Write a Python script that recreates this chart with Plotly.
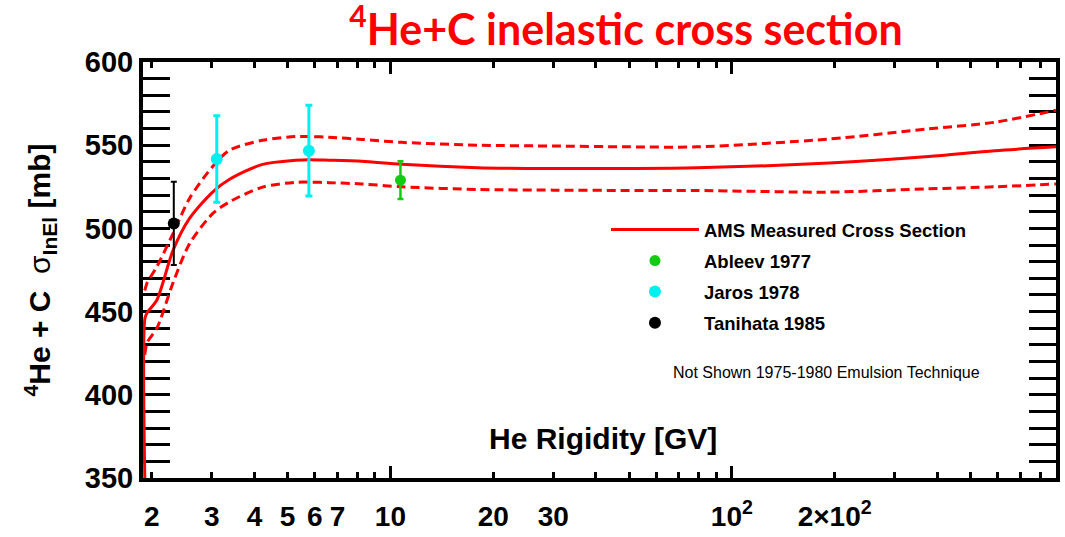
import plotly.graph_objects as go
import numpy as np

# Rigidity grid (GV) for the AMS cross-section band
rigidity = [1.908, 1.91, 1.94, 2.07, 2.31, 2.58, 3.02, 3.38, 4.22, 5.28, 5.77,
            6.6, 8.25, 10.8, 18, 30, 50, 79, 193, 377, 589, 890]
# AMS measured cross section (mb) and its upper / lower bounds
ams_sigma = [350, 446, 449.5, 457, 487, 506, 522, 529.5, 538.5, 541, 541.3,
             541, 540.3, 538.5, 536.5, 536, 536, 536.4, 539.3, 543.2, 546.7, 549]
ams_upper = [462.7, 463, 467.5, 477, 497, 518, 537.4, 547, 553, 555.2, 555.2,
             554.8, 553.5, 551.7, 550, 549.5, 549, 549, 553.7, 559.8, 563.8, 571]
ams_lower = [424, 425, 431.5, 440, 467.5, 490.8, 509, 516, 524.8, 527.7, 527.8,
             527.5, 526.7, 525, 523.4, 523, 522.8, 522.8, 521.8, 523.8, 525, 526.7]

# Earlier measurements
ableev_r, ableev_s, ableev_e = [10.7], [529], [11.4]
jaros_r, jaros_s, jaros_e = [3.1, 5.77], [541.7, 546.7], [26, 27.3]
tanihata_r, tanihata_s, tanihata_e = [2.32], [503], [25]

# Axis ticks
x_tickvals = [2, 3, 4, 5, 6, 7, 8, 9, 10, 20, 30, 40, 50, 60, 70, 80, 90,
              100, 200, 300, 400, 500, 600, 700, 800]
x_ticktext = ["2", "3", "4", "5", "6", "7", "", "", "10", "20", "30", "", "", "", "", "", "",
              "10<sup>2</sup>", "2×10<sup>2</sup>", "", "", "", "", "", ""]
x_major = [10, 100]
y_tickvals = [350, 400, 450, 500, 550, 600]

X_RANGE = [np.log10(1.885), np.log10(890)]
Y_RANGE = [350, 600]

RED = "#ff0000"
FONT = "Liberation Sans"

fig = go.Figure()

band_line = dict(color=RED, width=3, dash="9px,5px", shape="spline", smoothing=0.8)
fig.add_trace(go.Scatter(x=rigidity, y=ams_upper, mode="lines", showlegend=False,
                         line=band_line, hoverinfo="skip"))
fig.add_trace(go.Scatter(x=rigidity, y=ams_lower, mode="lines", showlegend=False,
                         line=band_line, hoverinfo="skip"))
fig.add_trace(go.Scatter(x=rigidity, y=ams_sigma, mode="lines", name="AMS Measured Cross Section",
                         line=dict(color=RED, width=3, shape="spline", smoothing=0.8),
                         legendgroup="a"))

def data_points(r, s, e, color, name, group, msize=12, cap=3.5, thick=2.5):
    return go.Scatter(x=r, y=s, mode="markers", name=name, legendgroup=group,
                      marker=dict(color=color, size=msize, line=dict(width=0)),
                      error_y=dict(type="data", array=e, color=color,
                                   thickness=thick, width=cap))

fig.add_trace(data_points(ableev_r, ableev_s, ableev_e, "#11cc11", "Ableev 1977", "b", 11, 3, 2.5))
fig.add_trace(data_points(jaros_r, jaros_s, jaros_e, "#00f0f0", "Jaros 1978", "c", 12, 3.5, 3))
fig.add_trace(data_points(tanihata_r, tanihata_s, tanihata_e, "#000000", "Tanihata 1985", "d", 12, 3, 2))

# empty trace carrying the long decade ticks on an overlaid axis
fig.add_trace(go.Scatter(x=[], y=[], xaxis="x2", showlegend=False))

fig.update_layout(
    width=1065, height=537,
    margin=dict(l=143, r=5, t=62, b=45),
    paper_bgcolor="white", plot_bgcolor="white",
    font=dict(family=FONT, color="black"),
    title=dict(text="<sup>4</sup>He+C inelastic cross section",
               font=dict(family="Lato", size=43, color=RED, weight="bold"),
               xref="container", x=626 / 1065, xanchor="center",
               yref="container", y=1 - 30 / 537, yanchor="middle"),
    xaxis=dict(type="log", range=X_RANGE, tickmode="array", tickvals=x_tickvals,
               ticktext=x_ticktext, ticks="inside", ticklen=6, tickwidth=2.5,
               tickcolor="black", showline=True, linewidth=4, linecolor="black",
               mirror="allticks", showgrid=False, zeroline=False, layer="below traces",
               tickfont=dict(family=FONT, size=28, weight="bold"),
               ticklabelstandoff=10),
    xaxis2=dict(type="log", range=X_RANGE, overlaying="x", side="bottom",
                tickmode="array", tickvals=x_major, showticklabels=False,
                ticks="inside", ticklen=12, tickwidth=2.5, tickcolor="black",
                mirror="allticks", showline=False, showgrid=False, zeroline=False),
    yaxis=dict(range=Y_RANGE, tickmode="array", tickvals=y_tickvals,
               ticks="inside", ticklen=27, tickwidth=3, tickcolor="black",
               minor=dict(dtick=10, ticks="inside", ticklen=13, tickwidth=3,
                          tickcolor="black", showgrid=False),
               showline=True, linewidth=4, linecolor="black", mirror="allticks",
               showgrid=False, zeroline=False, layer="below traces",
               tickfont=dict(family=FONT, size=29, weight="bold"),
               title=dict(text="<sup>4</sup>He + C  <span style='font-weight:normal'>σ</span><sub>InEl</sub> [mb]",
                          font=dict(family=FONT, size=30, weight="bold"), standoff=26)),
    legend=dict(x=(608 - 143) / 917, y=(492 - 216) / 430, xanchor="left", yanchor="top",
                bgcolor="rgba(0,0,0,0)", borderwidth=0, itemwidth=88,
                font=dict(family=FONT, size=18.5, weight="bold"), tracegroupgap=4),
    annotations=[
        dict(text="He Rigidity [GV]", xref="paper", yref="paper",
             x=(722 - 143) / 917, y=(492 - 451) / 430, xanchor="right", yanchor="middle",
             showarrow=False, font=dict(family=FONT, size=30, weight="bold")),
        dict(text="Not Shown 1975-1980 Emulsion Technique", xref="paper", yref="paper",
             x=(673 - 143) / 917, y=(492 - 383) / 430, xanchor="left", yanchor="middle",
             showarrow=False, font=dict(family=FONT, size=16)),
    ],
)

fig.write_html("out.html")
